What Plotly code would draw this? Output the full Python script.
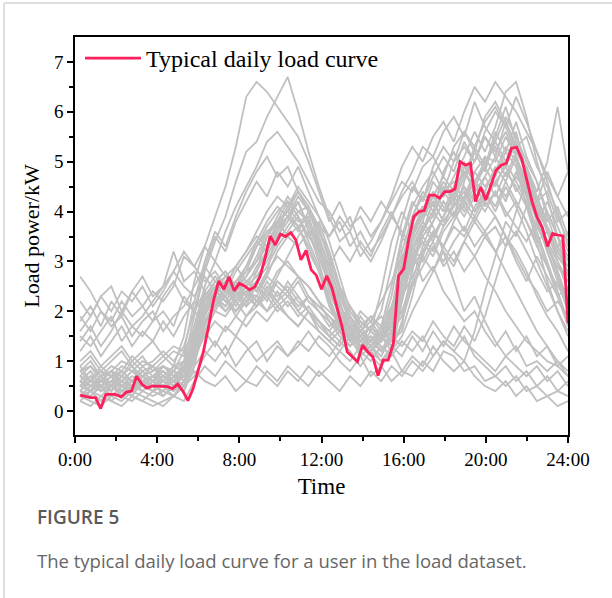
import numpy as np
import plotly.graph_objects as go

# ---------------- data ----------------
# typical daily load curve, 15-min resolution (0:15 ... 24:00)
red_times = [0.25 * k for k in range(1, 97)]
red_values = [
    0.32, 0.29, 0.27, 0.27, 0.05, 0.33, 0.34, 0.33,
    0.28, 0.38, 0.40, 0.70, 0.54, 0.46, 0.50, 0.50,
    0.49, 0.49, 0.45, 0.54, 0.40, 0.21, 0.45, 0.85,
    1.19, 1.69, 2.23, 2.61, 2.44, 2.69, 2.41, 2.56,
    2.51, 2.43, 2.49, 2.69, 3.06, 3.51, 3.33, 3.55,
    3.50, 3.58, 3.43, 3.03, 3.22, 2.83, 2.72, 2.44,
    2.71, 2.48, 2.09, 1.69, 1.19, 1.09, 0.99, 1.32,
    1.19, 1.09, 0.71, 1.02, 1.02, 1.36, 2.71, 2.85,
    3.45, 3.90, 4.00, 4.02, 4.33, 4.33, 4.27, 4.40,
    4.40, 4.45, 5.00, 4.93, 4.97, 4.20, 4.49, 4.23,
    4.52, 4.83, 4.93, 4.97, 5.27, 5.29, 5.05, 4.65,
    4.20, 3.88, 3.68, 3.30, 3.56, 3.53, 3.51, 1.76,
]

# other daily load curves of the dataset (48 points each, ~half-hourly)
gray_times = list(np.linspace(0.25, 24, 48))
gray_curves = [
    # double-hump curves
    [0.6, 0.5, 0.7, 0.4, 0.6, 0.5, 0.8, 0.6, 0.7, 0.5, 0.9, 1.6, 2.2, 2.5, 2.3, 2.6,
     2.9, 3.4, 3.8, 4.1, 3.9, 4.2, 3.6, 3.0, 2.2, 1.6, 1.3, 1.5, 1.2, 1.4, 1.8, 3.0,
     3.8, 4.1, 3.9, 4.4, 4.6, 4.2, 4.8, 5.1, 4.7, 5.2, 4.9, 4.1, 3.4, 2.6, 2.0, 1.5],
    [0.4, 0.3, 0.5, 0.6, 0.3, 0.4, 0.5, 0.7, 0.5, 0.8, 0.6, 1.2, 1.9, 2.4, 2.2, 2.0,
     2.3, 2.8, 3.5, 3.9, 4.3, 4.0, 4.1, 3.4, 2.6, 1.8, 1.4, 1.2, 1.5, 1.3, 1.1, 2.2,
     3.5, 4.0, 4.3, 4.0, 4.5, 5.0, 4.6, 4.9, 5.4, 5.0, 5.6, 4.8, 4.2, 3.6, 3.0, 2.4],
    [0.8, 0.9, 0.7, 0.8, 1.0, 0.9, 0.7, 0.8, 0.9, 0.7, 0.8, 1.0, 1.7, 2.3, 2.6, 2.4,
     2.7, 3.1, 3.6, 3.5, 3.9, 3.7, 3.2, 2.8, 2.1, 1.7, 1.5, 1.8, 1.6, 1.4, 1.6, 1.9,
     2.8, 3.6, 4.2, 3.8, 4.1, 4.4, 4.0, 4.3, 4.6, 4.9, 4.4, 4.7, 4.0, 3.7, 3.2, 2.9],
    [0.3, 0.4, 0.2, 0.5, 0.4, 0.3, 0.6, 0.4, 0.5, 0.6, 0.4, 0.9, 1.8, 2.1, 2.4, 2.2,
     2.5, 2.9, 3.2, 3.8, 4.0, 4.4, 4.1, 3.7, 3.0, 2.2, 1.6, 1.4, 1.2, 1.5, 1.3, 1.7,
     2.9, 3.7, 3.9, 4.5, 4.2, 4.7, 5.3, 4.9, 5.6, 5.2, 5.8, 5.1, 4.6, 3.9, 3.3, 3.6],
    [0.7, 0.6, 0.8, 0.5, 0.7, 0.9, 0.6, 0.7, 0.8, 0.6, 0.7, 1.4, 2.0, 2.2, 2.0, 2.3,
     2.1, 2.6, 2.9, 3.3, 3.6, 3.9, 3.5, 3.8, 3.2, 2.5, 1.9, 1.6, 1.8, 1.5, 2.1, 2.8,
     3.9, 4.3, 4.0, 4.8, 5.2, 4.7, 5.0, 5.5, 5.1, 5.8, 5.3, 5.5, 4.9, 4.5, 4.0, 3.3],
    [0.5, 0.7, 0.6, 0.8, 0.5, 0.6, 0.4, 0.6, 0.9, 0.8, 1.0, 1.3, 2.3, 2.6, 2.8, 2.5,
     2.7, 3.0, 3.3, 3.7, 4.1, 3.8, 3.9, 3.3, 2.4, 1.9, 1.4, 1.6, 1.3, 1.1, 1.5, 2.5,
     3.4, 3.8, 4.4, 4.1, 3.9, 4.6, 5.2, 4.8, 5.5, 6.1, 5.4, 4.8, 4.2, 4.4, 3.8, 4.0],
    [0.2, 0.4, 0.3, 0.5, 0.3, 0.2, 0.4, 0.3, 0.4, 0.3, 0.5, 1.0, 1.6, 2.0, 1.9, 2.2,
     2.4, 2.3, 2.7, 3.2, 3.5, 3.3, 3.6, 3.1, 2.5, 2.0, 1.7, 1.3, 1.5, 1.2, 1.4, 1.6,
     2.3, 3.2, 3.5, 3.9, 4.4, 4.2, 4.6, 4.4, 4.9, 4.6, 5.1, 4.4, 3.9, 3.2, 2.7, 2.1],
    [0.9, 0.6, 0.8, 0.7, 0.9, 0.8, 1.0, 0.9, 1.1, 0.9, 1.0, 1.5, 2.4, 2.7, 2.5, 2.9,
     3.2, 3.6, 4.0, 4.3, 4.1, 4.5, 4.2, 3.9, 3.4, 2.7, 2.0, 1.7, 1.4, 1.6, 2.3, 3.4,
     4.1, 4.5, 4.8, 4.4, 5.0, 5.3, 5.0, 5.6, 6.0, 5.7, 6.3, 5.8, 5.2, 4.6, 3.9, 3.4],
    [0.4, 0.6, 0.5, 0.4, 0.7, 0.5, 0.6, 0.5, 0.4, 0.7, 0.5, 1.1, 1.8, 2.2, 2.5, 2.1,
     2.4, 2.6, 3.1, 3.5, 3.8, 4.2, 3.7, 3.2, 2.7, 2.1, 1.8, 1.5, 1.7, 1.9, 1.6, 2.0,
     2.6, 3.3, 3.8, 4.2, 3.9, 4.3, 4.8, 4.5, 4.8, 5.3, 5.0, 4.3, 3.6, 3.0, 2.4, 1.8],
    [0.6, 0.8, 0.5, 0.7, 0.6, 0.8, 0.7, 0.9, 0.6, 0.8, 0.7, 1.3, 2.1, 2.3, 2.1, 2.4,
     2.6, 2.8, 3.2, 3.6, 3.9, 4.3, 4.0, 3.5, 2.9, 2.3, 1.8, 1.4, 1.2, 1.5, 1.9, 2.6,
     3.6, 4.0, 4.6, 4.3, 4.7, 5.1, 5.6, 5.2, 5.7, 6.4, 6.6, 5.9, 5.0, 4.3, 3.5, 2.7],
    [0.3, 0.5, 0.4, 0.6, 0.3, 0.5, 0.4, 0.6, 0.3, 0.5, 0.7, 1.2, 2.0, 2.4, 2.2, 2.5,
     2.8, 3.3, 3.7, 4.0, 4.2, 3.9, 3.4, 2.9, 2.3, 1.7, 1.5, 1.3, 1.6, 1.4, 2.0, 3.2,
     3.9, 4.4, 4.1, 4.6, 4.3, 4.9, 4.6, 5.0, 5.3, 4.9, 5.4, 4.7, 4.0, 3.4, 2.8, 2.2],
    [0.8, 0.6, 0.9, 0.7, 0.8, 0.6, 0.9, 0.7, 0.8, 0.6, 0.9, 1.4, 2.2, 2.5, 2.3, 2.6,
     2.8, 3.0, 3.5, 3.8, 4.0, 3.7, 3.9, 3.2, 2.6, 2.0, 1.6, 1.4, 1.7, 1.5, 1.8, 2.7,
     3.5, 3.9, 4.3, 4.0, 4.5, 4.8, 4.4, 5.1, 5.0, 5.5, 5.1, 4.5, 3.8, 3.2, 2.6, 2.0],
    [0.5, 0.4, 0.6, 0.5, 0.8, 0.6, 0.7, 0.5, 0.6, 0.8, 0.6, 1.2, 2.0, 2.3, 2.6, 2.3,
     2.5, 2.7, 3.0, 3.4, 3.7, 4.0, 3.8, 3.3, 2.8, 2.1, 1.7, 1.5, 1.3, 1.6, 1.4, 2.3,
     3.2, 3.6, 4.0, 4.4, 4.1, 4.5, 4.2, 4.7, 5.1, 4.7, 5.2, 4.9, 4.3, 3.8, 4.1, 3.5],
    [0.6, 0.4, 0.5, 0.7, 0.4, 0.6, 0.8, 0.6, 0.5, 0.4, 0.6, 1.3, 2.1, 2.5, 2.7, 2.4,
     2.6, 2.4, 2.8, 3.6, 4.1, 4.4, 4.1, 3.6, 3.1, 2.4, 1.9, 1.6, 1.4, 1.2, 1.5, 2.6,
     3.3, 3.7, 3.4, 3.9, 4.3, 4.8, 4.5, 4.2, 4.6, 4.3, 4.7, 4.4, 3.8, 4.2, 3.7, 3.2],
    [0.3, 0.5, 0.7, 0.4, 0.6, 0.4, 0.5, 0.7, 0.5, 0.3, 0.6, 1.1, 1.7, 2.1, 2.3, 2.0,
     2.2, 2.5, 2.3, 2.7, 3.1, 3.5, 3.8, 3.4, 2.9, 2.3, 1.9, 1.6, 1.9, 1.7, 2.5, 3.5,
     4.2, 3.9, 4.3, 4.7, 4.4, 4.1, 4.5, 4.9, 4.5, 5.0, 4.6, 4.2, 3.5, 2.9, 2.3, 1.7],
    [0.7, 0.9, 0.6, 0.8, 0.7, 1.0, 0.8, 0.9, 0.7, 0.9, 0.8, 1.5, 2.3, 2.0, 2.4, 2.6,
     2.3, 2.5, 2.2, 2.6, 2.4, 2.7, 2.3, 2.1, 1.9, 1.7, 1.4, 1.6, 1.3, 1.5, 1.2, 1.8,
     2.5, 3.1, 3.6, 3.3, 3.8, 4.2, 3.9, 4.3, 4.6, 4.2, 4.8, 4.3, 3.9, 3.4, 3.0, 2.6],
    # curves with higher night load
    [1.8, 2.1, 1.7, 2.2, 1.9, 2.4, 2.1, 1.8, 2.3, 2.6, 2.2, 2.0, 2.4, 2.1, 2.3, 1.9,
     2.2, 2.5, 2.3, 2.6, 2.4, 2.1, 2.3, 2.0, 1.8, 1.6, 1.9, 1.5, 1.7, 1.4, 1.8, 2.4,
     3.0, 3.4, 3.1, 3.6, 3.9, 4.1, 3.8, 4.2, 3.9, 3.5, 3.1, 2.7, 2.4, 2.0, 2.2, 1.9],
    [2.7, 2.4, 2.0, 1.7, 1.9, 1.5, 1.8, 2.0, 1.6, 1.9, 2.1, 2.5, 2.9, 2.6, 2.8, 2.4,
     2.1, 2.3, 2.0, 2.2, 1.9, 1.7, 2.0, 1.8, 1.6, 1.9, 1.5, 1.7, 1.4, 1.6, 2.0, 2.9,
     3.6, 3.9, 4.2, 3.8, 4.1, 4.5, 4.0, 4.4, 4.1, 4.6, 4.2, 3.8, 3.3, 2.9, 2.5, 2.2],
    [1.5, 1.3, 1.6, 1.9, 1.4, 1.7, 1.5, 1.8, 2.0, 1.7, 2.3, 2.0, 1.8, 2.1, 2.4, 2.2,
     1.9, 2.1, 2.4, 2.2, 2.6, 2.3, 2.0, 1.7, 1.5, 1.3, 1.6, 1.2, 1.4, 1.7, 2.1, 2.6,
     2.9, 3.2, 3.6, 3.3, 3.7, 3.5, 3.9, 3.6, 3.2, 3.5, 3.0, 2.6, 3.1, 2.7, 2.3, 2.5],
    [2.2, 1.9, 2.3, 2.5, 2.0, 2.4, 2.7, 2.3, 2.5, 3.2, 2.6, 2.8, 2.4, 2.2, 2.5, 2.3,
     2.6, 2.4, 2.8, 3.1, 2.9, 2.7, 2.5, 2.2, 2.0, 1.8, 2.1, 1.7, 1.9, 1.6, 1.9, 2.3,
     2.7, 3.1, 2.8, 3.3, 3.0, 3.4, 3.8, 3.5, 3.7, 3.3, 3.6, 3.2, 2.8, 2.4, 2.6, 2.2],
    [1.2, 1.5, 1.1, 1.4, 1.7, 1.3, 1.6, 1.4, 1.8, 1.5, 1.9, 2.2, 2.0, 2.3, 2.0, 2.2,
     2.4, 2.1, 2.3, 2.0, 2.2, 1.9, 2.1, 1.8, 1.5, 1.7, 1.4, 1.6, 1.3, 1.5, 1.8, 2.2,
     3.1, 3.5, 3.8, 4.2, 3.9, 4.3, 4.6, 4.1, 4.4, 4.0, 3.7, 3.4, 3.8, 3.3, 2.9, 2.6],
    [1.9, 1.6, 2.0, 1.8, 2.2, 1.9, 2.1, 2.4, 2.2, 2.5, 3.1, 2.9, 3.3, 3.0, 2.7, 2.9,
     2.6, 2.4, 2.7, 2.5, 2.3, 2.6, 2.2, 2.0, 1.7, 1.9, 1.6, 2.0, 1.8, 2.2, 2.6, 3.1,
     3.4, 3.8, 3.5, 3.9, 4.3, 4.0, 4.4, 4.7, 4.3, 4.8, 4.5, 4.1, 3.7, 4.0, 3.5, 3.0],
    [1.0, 1.2, 0.9, 1.1, 1.3, 1.0, 1.2, 1.4, 1.1, 1.3, 1.2, 1.6, 2.1, 2.4, 2.2, 2.0,
     2.3, 2.1, 2.5, 2.2, 2.4, 2.0, 2.3, 2.1, 1.9, 1.6, 1.3, 1.5, 1.2, 1.4, 1.7, 2.0,
     2.5, 2.9, 3.3, 3.0, 3.4, 3.7, 3.3, 3.6, 3.9, 3.5, 3.2, 2.8, 2.3, 1.9, 1.6, 1.2],
    [0.9, 1.1, 0.8, 1.0, 1.2, 0.9, 1.1, 0.8, 1.0, 1.2, 1.1, 1.7, 2.4, 2.1, 2.5, 2.2,
     2.4, 2.2, 2.6, 2.3, 2.5, 2.2, 2.0, 1.8, 1.6, 1.4, 1.7, 1.3, 1.5, 1.2, 1.6, 2.2,
     3.0, 3.5, 3.2, 3.7, 4.0, 3.6, 4.1, 4.4, 4.0, 4.5, 4.1, 3.6, 3.0, 2.5, 2.0, 1.6],
    [1.6, 1.9, 2.3, 2.0, 2.4, 2.2, 2.5, 2.1, 2.4, 2.8, 2.5, 2.3, 2.7, 2.4, 2.6, 2.2,
     2.5, 2.2, 2.4, 2.1, 2.3, 2.0, 1.8, 1.6, 1.4, 1.6, 1.3, 1.5, 1.2, 1.4, 1.7, 2.3,
     3.3, 3.6, 4.0, 3.7, 4.2, 3.9, 4.3, 4.0, 4.4, 3.9, 4.2, 3.8, 3.4, 3.6, 3.1, 2.8],
    # curves with a high midday load
    [0.7, 0.5, 0.6, 0.8, 0.6, 0.5, 0.7, 0.6, 0.8, 0.6, 1.0, 1.9, 2.8, 3.4, 3.9, 4.6,
     5.2, 5.4, 5.9, 6.3, 6.7, 6.0, 5.2, 4.5, 3.9, 3.4, 3.6, 3.1, 3.4, 3.8, 4.3, 4.9,
     5.3, 5.0, 5.5, 5.8, 5.4, 6.0, 6.5, 6.2, 6.6, 6.3, 6.0, 5.6, 5.2, 4.7, 4.3, 4.8],
    [0.5, 0.7, 0.4, 0.6, 0.8, 0.6, 0.5, 0.7, 0.6, 0.9, 1.5, 2.6, 3.3, 3.9, 4.5, 5.3,
     6.3, 6.6, 6.4, 6.1, 5.8, 5.5, 5.0, 4.4, 3.8, 4.2, 3.7, 3.9, 3.5, 3.8, 4.2, 4.6,
     4.4, 4.9, 5.1, 4.7, 5.3, 5.6, 5.2, 5.9, 6.2, 5.8, 5.3, 4.9, 4.4, 5.0, 6.1, 4.8],
    [0.6, 0.4, 0.6, 0.5, 0.4, 0.6, 0.5, 0.4, 0.7, 0.5, 0.8, 1.7, 2.5, 3.0, 3.6, 4.1,
     4.5, 4.9, 5.4, 5.6, 5.3, 5.0, 4.6, 4.2, 4.0, 3.6, 3.9, 3.3, 3.0, 3.4, 3.9, 4.4,
     4.8, 5.3, 5.1, 5.6, 5.9, 5.5, 6.2, 5.7, 5.4, 5.9, 5.5, 5.0, 4.6, 4.0, 3.5, 3.1],
    [0.8, 1.0, 0.7, 0.9, 0.8, 1.1, 0.9, 1.0, 1.2, 1.0, 1.3, 2.0, 2.9, 3.5, 3.2, 3.8,
     4.2, 4.6, 4.3, 4.8, 4.5, 4.9, 4.4, 3.9, 3.5, 3.8, 3.3, 3.6, 3.2, 3.5, 3.9, 4.3,
     4.6, 4.2, 4.7, 5.1, 4.8, 5.4, 5.0, 5.5, 5.2, 5.6, 5.1, 4.6, 4.1, 3.6, 3.2, 2.8],
    [0.4, 0.6, 0.5, 0.7, 0.4, 0.5, 0.7, 0.5, 0.6, 0.8, 1.2, 2.2, 3.0, 3.6, 3.3, 3.9,
     4.4, 4.8, 5.1, 4.7, 4.9, 4.4, 4.0, 3.6, 3.2, 2.5, 2.1, 1.8, 1.6, 2.0, 2.9, 3.8,
     4.5, 4.2, 4.9, 5.3, 5.0, 5.6, 5.3, 5.8, 6.1, 5.7, 5.2, 4.8, 4.3, 3.7, 3.3, 2.9],
    # low-load curves
    [0.4, 0.3, 0.5, 0.2, 0.4, 0.3, 0.2, 0.4, 0.3, 0.5, 0.4, 0.9, 1.2, 1.0, 1.3, 0.9,
     1.2, 1.4, 1.0, 1.3, 1.1, 1.4, 1.2, 1.5, 1.3, 1.0, 0.8, 1.1, 0.7, 0.9, 0.6, 0.8,
     0.7, 1.0, 0.8, 1.2, 1.1, 0.8, 0.9, 0.6, 0.7, 0.5, 0.7, 0.4, 0.5, 0.3, 0.4, 0.3],
    [0.2, 0.1, 0.3, 0.2, 0.1, 0.3, 0.2, 0.1, 0.2, 0.3, 0.2, 0.6, 0.9, 0.7, 1.0, 0.8,
     0.6, 0.9, 0.7, 0.5, 0.8, 0.6, 0.9, 0.7, 0.9, 1.2, 1.0, 1.3, 1.1, 0.9, 1.2, 0.8,
     1.1, 0.9, 1.3, 1.0, 0.8, 1.0, 0.7, 0.5, 0.4, 0.6, 0.3, 0.5, 0.2, 0.3, 0.1, 0.2],
    [0.3, 0.2, 0.1, 0.3, 0.2, 0.4, 0.3, 0.2, 0.1, 0.3, 0.5, 0.7, 1.1, 1.4, 1.1, 1.5,
     1.3, 1.0, 1.2, 1.4, 1.1, 1.3, 1.6, 1.3, 1.1, 1.4, 1.2, 0.9, 1.2, 1.0, 1.3, 1.1,
     1.5, 1.2, 1.6, 1.3, 1.7, 1.4, 1.2, 1.0, 0.8, 1.1, 0.9, 0.7, 0.9, 0.6, 0.8, 0.5],
    [0.5, 0.7, 0.4, 0.6, 0.5, 0.3, 0.6, 0.5, 0.4, 0.6, 0.5, 0.8, 0.6, 0.5, 0.7, 0.4,
     0.6, 0.5, 0.8, 0.6, 0.9, 0.7, 0.5, 0.8, 0.6, 0.4, 0.7, 0.5, 0.8, 0.6, 0.9, 0.7,
     1.0, 0.8, 1.1, 1.4, 1.2, 1.5, 1.1, 0.9, 0.7, 0.9, 0.6, 0.8, 0.5, 0.7, 0.4, 0.6],
    [0.6, 0.8, 0.5, 0.7, 0.6, 0.4, 0.7, 0.6, 0.8, 0.6, 0.7, 1.1, 1.5, 1.8, 1.6, 1.9,
     1.7, 2.0, 1.8, 2.1, 1.9, 1.7, 2.0, 1.6, 1.4, 1.2, 1.5, 1.1, 1.3, 1.0, 1.2, 1.5,
     2.0, 2.4, 2.8, 3.2, 2.9, 3.4, 3.1, 3.5, 3.2, 2.8, 2.4, 2.0, 1.6, 1.3, 1.0, 0.8],
    # curves that stay high in the afternoon
    [0.5, 0.6, 0.4, 0.5, 0.7, 0.6, 0.5, 0.6, 0.5, 0.7, 0.9, 1.5, 2.2, 2.6, 2.4, 2.8,
     3.1, 3.4, 3.2, 3.7, 3.9, 3.6, 4.0, 3.7, 3.5, 3.9, 3.6, 4.1, 3.8, 4.2, 3.9, 3.6,
     3.3, 3.0, 3.4, 2.9, 3.2, 2.8, 3.1, 2.7, 2.4, 2.0, 1.7, 1.4, 1.2, 1.0, 0.9, 0.7],
    [1.4, 1.7, 1.3, 1.6, 2.0, 1.7, 1.9, 2.2, 2.5, 2.8, 3.2, 2.9, 2.6, 2.8, 2.5, 2.9,
     3.2, 3.5, 3.3, 3.8, 4.2, 3.9, 3.5, 3.2, 2.9, 3.3, 3.0, 3.4, 3.1, 3.6, 4.0, 3.5,
     3.2, 2.6, 2.9, 2.4, 2.1, 1.8, 2.0, 1.6, 1.3, 1.6, 1.2, 1.5, 1.1, 1.3, 0.9, 1.1],
    [0.6, 0.4, 0.7, 0.5, 0.6, 0.8, 0.6, 0.7, 0.9, 0.7, 0.8, 1.3, 2.0, 2.4, 2.7, 2.5,
     2.9, 3.3, 3.6, 3.8, 3.5, 3.7, 3.3, 2.8, 2.2, 1.8, 1.5, 1.9, 1.6, 2.4, 3.4, 4.0,
     3.6, 4.1, 3.7, 3.2, 2.6, 2.0, 2.3, 1.8, 1.4, 1.1, 1.3, 0.9, 1.0, 0.8, 1.0, 0.7],
    # curves with a late-evening peak
    [0.7, 0.5, 0.6, 0.8, 0.5, 0.7, 0.6, 0.5, 0.7, 0.6, 0.8, 1.1, 1.9, 2.3, 2.1, 2.4,
     2.2, 2.6, 2.4, 2.8, 3.0, 2.7, 2.5, 2.2, 1.8, 1.5, 1.3, 1.6, 1.4, 1.2, 1.5, 1.3,
     1.6, 1.4, 1.8, 1.5, 1.3, 1.7, 1.4, 1.9, 2.6, 3.3, 4.0, 4.6, 4.2, 4.8, 4.3, 3.9],
    [0.4, 0.6, 0.5, 0.3, 0.5, 0.4, 0.6, 0.5, 0.6, 0.4, 0.6, 1.0, 1.6, 1.3, 1.7, 1.5,
     1.9, 2.2, 2.0, 2.4, 2.1, 2.3, 2.0, 1.8, 1.5, 1.3, 1.6, 1.2, 1.0, 1.3, 1.1, 1.4,
     1.2, 1.5, 1.1, 1.4, 1.2, 1.0, 1.6, 2.4, 3.1, 3.8, 3.5, 4.1, 3.7, 3.3, 2.8, 2.2],
]

x_tick_vals = [0, 4, 8, 12, 16, 20, 24]
x_tick_text = ["0:00", "4:00", "8:00", "12:00", "16:00", "20:00", "24:00"]
y_tick_vals = [0, 1, 2, 3, 4, 5, 6, 7]

legend_label = "Typical daily load curve"
x_title = "Time"
y_title = "Load power/kW"
fig_label = "FIGURE 5"
caption = "The typical daily load curve for a user in the load dataset."

# ---------------- figure ----------------
W, H = 612, 598
ML, MR, MT, MB = 75, 44, 37, 163
PW, PH = W - ML - MR, H - MT - MB


def px_x(p):
    return (p - ML) / PW


def px_y(p):
    return (H - MB - p) / PH


fig = go.Figure()
for g in gray_curves:
    fig.add_trace(go.Scatter(x=gray_times, y=g, mode="lines",
                             line=dict(color="#c0c0c0", width=1.8),
                             showlegend=False, hoverinfo="skip"))
fig.add_trace(go.Scatter(x=red_times, y=red_values, mode="lines",
                         name=legend_label,
                         line=dict(color="#ff1f5a", width=2.8)))

serif = "Liberation Serif, Times New Roman, serif"
fig.update_layout(
    width=W, height=H,
    margin=dict(l=ML, r=MR, t=MT, b=MB),
    paper_bgcolor="white", plot_bgcolor="white",
    font=dict(family=serif, color="black"),
    showlegend=True,
    legend=dict(x=px_x(80), y=px_y(36), xanchor="left", yanchor="top",
                bgcolor="rgba(0,0,0,0)", font=dict(family=serif, size=24, color="black"),
                itemwidth=56, tracegroupgap=0),
    xaxis=dict(range=[0, 24], tickmode="array", tickvals=x_tick_vals, ticktext=x_tick_text,
               showgrid=False, zeroline=False, showline=True, linecolor="black", linewidth=1.5,
               mirror=True, ticks="outside", ticklen=6, tickwidth=1.5, tickcolor="black",
               tickfont=dict(family=serif, size=19, color="black"),
               minor=dict(tickvals=[2, 6, 10, 14, 18, 22], ticks="outside", ticklen=4,
                          tickwidth=1.5, tickcolor="black", showgrid=False),
               title=dict(text=x_title, font=dict(family=serif, size=23, color="black"), standoff=9)),
    yaxis=dict(range=[-0.48, 7.5], tickmode="array", tickvals=y_tick_vals,
               showgrid=False, zeroline=False, showline=True, linecolor="black", linewidth=1.5,
               mirror=True, ticks="outside", ticklen=6, tickwidth=1.5, tickcolor="black",
               tickfont=dict(family=serif, size=19, color="black"),
               minor=dict(tickvals=[0.5, 1.5, 2.5, 3.5, 4.5, 5.5, 6.5], ticks="outside", ticklen=4,
                          tickwidth=1.5, tickcolor="black", showgrid=False),
               title=dict(text=y_title, font=dict(family=serif, size=22, color="black"), standoff=8)),
)

# outer frame of the figure panel
fig.add_shape(type="line", xref="paper", yref="paper", x0=px_x(4), x1=px_x(620),
              y0=px_y(3), y1=px_y(3), line=dict(color="#d4d4d4", width=1.5))
fig.add_shape(type="line", xref="paper", yref="paper", x0=px_x(4), x1=px_x(4),
              y0=px_y(3), y1=px_y(605), line=dict(color="#d4d4d4", width=1.5))

fig.add_annotation(text=fig_label, xref="paper", yref="paper", x=px_x(35), y=px_y(517),
                   xanchor="left", yanchor="middle", showarrow=False,
                   font=dict(family="Open Sans, sans-serif", size=19, color="#5a5a5a", weight=600))
fig.add_annotation(text=caption, xref="paper", yref="paper", x=px_x(35), y=px_y(560),
                   xanchor="left", yanchor="middle", showarrow=False,
                   font=dict(family="Open Sans, sans-serif", size=18.5, color="#666666"))

fig.write_html("out.html")
